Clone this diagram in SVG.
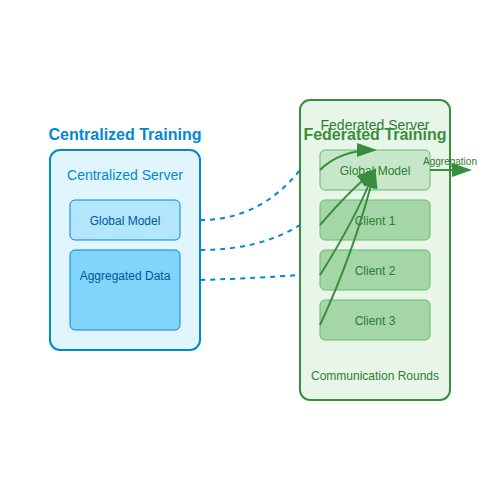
<svg xmlns="http://www.w3.org/2000/svg" width="500" height="500" viewBox="0 0 500 500">
<style>
text{font-family:"Liberation Sans",Arial,sans-serif;text-anchor:middle}
.c{fill:#0288d1}
.cd{fill:#01579b}
.g{fill:#2e7d32}
.dash{fill:none;stroke:#0288d1;stroke-width:2;stroke-dasharray:5,5}
.arr{fill:none;stroke:#388e3c;stroke-width:2;marker-end:url(#ah)}
</style>
<defs>
<marker id="ah" markerWidth="10" markerHeight="7" refX="9" refY="3.5" orient="auto">
<polygon points="0 0, 10 3.5, 0 7" fill="#388e3c"/>
</marker>
</defs>
<rect width="500" height="500" fill="#ffffff"/>
<g id="centralized">
<text x="125" y="140" font-size="16" font-weight="bold" class="c">Centralized Training</text>
<rect x="50" y="150" width="150" height="200" rx="10" fill="#e1f5fe" stroke="#0288d1" stroke-width="2"/>
<text x="125" y="180" font-size="14" class="c">Centralized Server</text>
</g>
<g id="c-global">
<rect x="70" y="200" width="110" height="40" rx="5" fill="#b3e5fc" stroke="#0288d1" stroke-width="1"/>
<text x="125" y="225" font-size="12" class="cd">Global Model</text>
</g>
<g id="c-data">
<rect x="70" y="250" width="110" height="80" rx="5" fill="#81d4fa" stroke="#0288d1" stroke-width="1"/>
<text x="125" y="280" font-size="12" class="cd">Aggregated Data</text>
</g>
<g id="federated">
<rect x="300" y="100" width="150" height="300" rx="10" fill="#e8f5e9" stroke="#388e3c" stroke-width="2"/>
<text x="375" y="130" font-size="14" class="g">Federated Server</text>
<text x="375" y="140" font-size="16" font-weight="bold" fill="#388e3c">Federated Training</text>
<text x="375" y="380" font-size="12" class="g">Communication Rounds</text>
</g>
<g id="f-global">
<rect x="320" y="150" width="110" height="40" rx="5" fill="#c8e6c9" stroke="#66bb6a" stroke-width="1"/>
<text x="375" y="175" font-size="12" class="g">Global Model</text>
</g>
<g id="client1">
<rect x="320" y="200" width="110" height="40" rx="5" fill="#a5d6a7" stroke="#66bb6a" stroke-width="1"/>
<text x="375" y="225" font-size="12" class="g">Client 1</text>
</g>
<g id="client2">
<rect x="320" y="250" width="110" height="40" rx="5" fill="#a5d6a7" stroke="#66bb6a" stroke-width="1"/>
<text x="375" y="275" font-size="12" class="g">Client 2</text>
</g>
<g id="client3">
<rect x="320" y="300" width="110" height="40" rx="5" fill="#a5d6a7" stroke="#66bb6a" stroke-width="1"/>
<text x="375" y="325" font-size="12" class="g">Client 3</text>
</g>
<g id="connectors">
<path class="dash" d="M200,220 Q260,220 300,170"/>
<path class="dash" d="M200,250 Q260,250 300,225"/>
<path class="dash" d="M200,280 Q260,278 300,275"/>
<path class="arr" d="M320,170 Q340,150 375,150"/>
<path class="arr" d="M320,225 Q350,190 375,170"/>
<path class="arr" d="M320,275 Q355,220 375,170"/>
<path class="arr" d="M320,325 Q355,250 375,170"/>
<path class="arr" d="M430,170 L470,170"/>
<text x="450" y="165" font-size="10" class="g">Aggregation</text>
</g>
</svg>
